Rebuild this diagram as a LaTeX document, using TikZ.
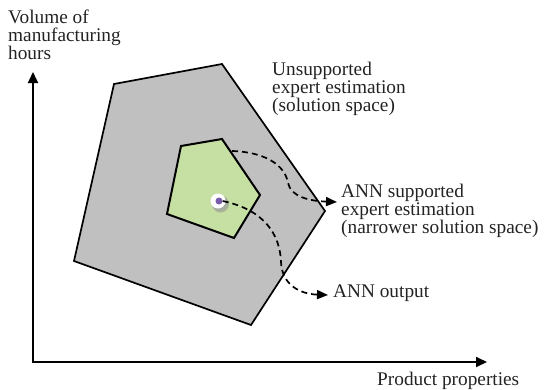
\documentclass[tikz,border=0pt]{standalone}
\usepackage{fontspec}
\setmainfont{Liberation Serif}
\usetikzlibrary{arrows.meta}
\definecolor{regiongrey}{RGB}{192,192,192}
\definecolor{regiongreen}{RGB}{198,223,163}
\definecolor{annpurple}{RGB}{122,92,172}
\definecolor{inktext}{RGB}{35,35,35}
\begin{document}
\begin{tikzpicture}[x=1pt,y=-1pt,
  lbl/.style={font=\fontsize{19.3}{17.5}\selectfont, text=inktext, inner sep=0pt, align=left, anchor=north west},
  region/.style={draw=black, line width=1.7pt, line join=miter},
  axis/.style={line width=1.8pt, {Triangle[length=11pt,width=10pt]}-{Triangle[length=11pt,width=10pt]}},
  link/.style={dash pattern=on 6pt off 4pt, line width=1.7pt, -{Triangle[length=11pt,width=9pt]}}]
\useasboundingbox (0,0) rectangle (545,389);

% solution spaces
\draw[region, fill=regiongrey] (114,84) -- (222,64) -- (325,211) -- (251,325) -- (74,261) -- cycle;
\draw[region, line width=2pt, fill=regiongreen] (181,146) -- (222,139) -- (260,195) -- (234,238) -- (167,214) -- cycle;

% ANN output marker
\fill[black!45, opacity=0.5] (220.5,204) circle (8.5pt);
\fill[black!35, opacity=0.6] (219.5,203) circle (7.5pt);
\fill[white] (218,201) circle (7.5pt);
\node[circle, fill=annpurple, minimum size=7pt, inner sep=0pt] (ann) at (219,201) {};

% axes
\coordinate (origin) at (33,362);
\coordinate (ytip) at (33,72);
\coordinate (xtip) at (487,362);
\draw[axis] (ytip) -- (origin) -- (xtip);

% labels
\node[lbl] (ylabel) at (8,10) {Volume of\\manufacturing\\hours};
\node[lbl] (xlabel) at (377,372) {Product properties};
\node[lbl] (unsup) at (272,62) {Unsupported\\expert estimation\\(solution space)};
\node[lbl] (annsup) at (341,184) {ANN supported\\expert estimation\\(narrower solution space)};
\node[lbl] (annout) at (333,285) {ANN output};

% connectors
\coordinate (gedge) at (232,151);
\draw[link] (gedge) .. controls (265,152) and (285,165) .. (288,183)
  .. controls (291,197) and (310,201) .. ([xshift=-4pt,yshift=-18pt]annsup.north west);
\draw[link] (ann.east) .. controls (265,210) and (280,235) .. (281,262)
  .. controls (282,285) and (300,294) .. ([xshift=-5pt,yshift=-10pt]annout.north west);
\end{tikzpicture}
\end{document}
